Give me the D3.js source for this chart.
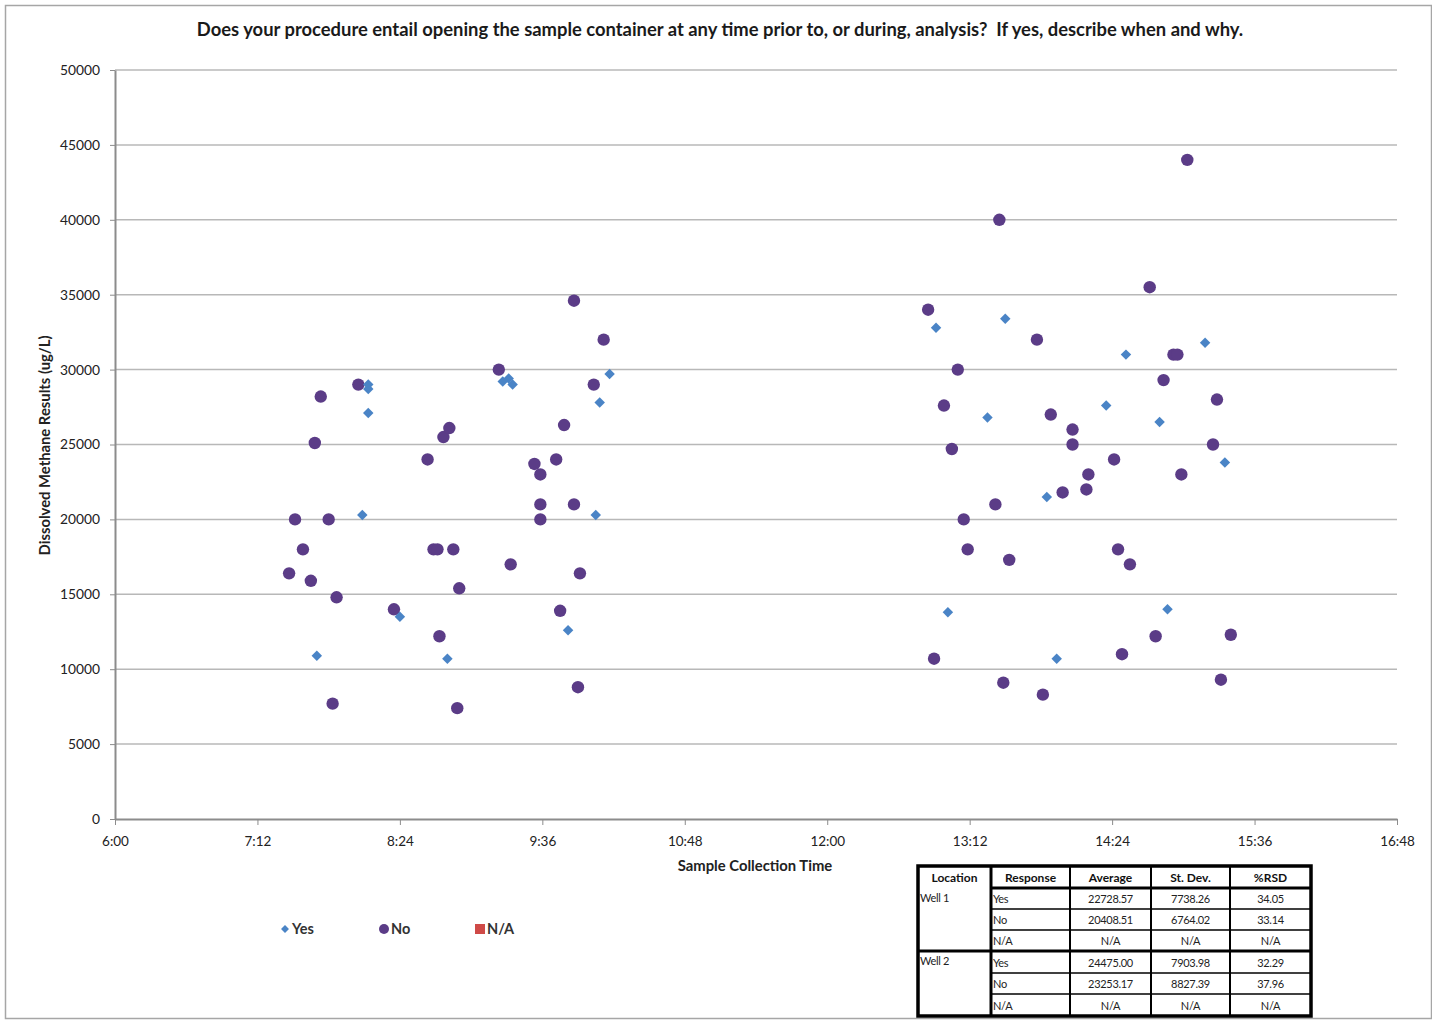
<!DOCTYPE html>
<html>
<head>
<meta charset="utf-8">
<script src="https://cdn.jsdelivr.net/npm/d3@7"></script>
<style>
  body { margin: 0; background: #fff; }
  svg text { font-family: "Lato", "Open Sans", sans-serif; white-space: pre; }
</style>
</head>
<body>
<div id="chart"></div>
<script>
const title = "Does your procedure entail opening the sample container at any time prior to, or during, analysis?  If yes, describe when and why."

const xTickLabels = ["6:00", "7:12", "8:24", "9:36", "10:48", "12:00", "13:12", "14:24", "15:36", "16:48"]
const yTicks = [0, 5000, 10000, 15000, 20000, 25000, 30000, 35000, 40000, 45000, 50000]

// [collection time, methane ug/L]
const yesPoints = [
  ["7:42", 10900], ["8:05", 20300], ["8:08", 29000], ["8:08", 28700], ["8:08", 27100],
  ["8:24", 13500], ["8:48", 10700], ["9:16", 29200], ["9:19", 29400], ["9:21", 29000],
  ["9:49", 12600], ["10:03", 20300], ["10:05", 27800], ["10:10", 29700],
  ["12:55", 32800], ["13:01", 13800], ["13:21", 26800], ["13:30", 33400], ["13:51", 21500],
  ["13:56", 10700], ["14:21", 27600], ["14:31", 31000], ["14:48", 26500], ["14:52", 14000],
  ["15:11", 31800], ["15:21", 23800]
]

const noPoints = [
  ["7:28", 16400], ["7:31", 20000], ["7:35", 18000], ["7:39", 15900], ["7:41", 25100],
  ["7:44", 28200], ["7:48", 20000], ["7:50", 7700], ["7:52", 14800], ["8:03", 29000],
  ["8:21", 14000], ["8:38", 24000], ["8:41", 18000], ["8:43", 18000], ["8:44", 12200],
  ["8:46", 25500], ["8:49", 26100], ["8:51", 18000], ["8:53", 7400], ["8:54", 15400],
  ["9:14", 30000], ["9:20", 17000], ["9:32", 23700], ["9:35", 23000], ["9:35", 21000],
  ["9:35", 20000], ["9:43", 24000], ["9:45", 13900], ["9:47", 26300], ["9:52", 34600],
  ["9:52", 21000], ["9:54", 8800], ["9:55", 16400], ["10:02", 29000], ["10:07", 32000],
  ["12:51", 34000], ["12:54", 10700], ["12:59", 27600], ["13:03", 24700], ["13:06", 30000],
  ["13:09", 20000], ["13:11", 18000], ["13:25", 21000], ["13:27", 40000], ["13:29", 9100],
  ["13:32", 17300], ["13:46", 32000], ["13:49", 8300], ["13:53", 27000], ["13:59", 21800],
  ["14:04", 26000], ["14:04", 25000], ["14:11", 22000], ["14:12", 23000], ["14:25", 24000],
  ["14:27", 18000], ["14:29", 11000], ["14:33", 17000], ["14:43", 35500], ["14:46", 12200],
  ["14:50", 29300], ["14:55", 31000], ["14:57", 31000], ["14:59", 23000], ["15:02", 44000],
  ["15:15", 25000], ["15:17", 28000], ["15:19", 9300], ["15:24", 12300]
]

const legendItems = ["Yes", "No", "N/A"]

const tableHeader = ["Location", "Response", "Average", "St. Dev.", "%RSD"]
const tableRows = [
  ["Well 1", "Yes", "22728.57", "7738.26", "34.05"],
  ["", "No", "20408.51", "6764.02", "33.14"],
  ["", "N/A", "N/A", "N/A", "N/A"],
  ["Well 2", "Yes", "24475.00", "7903.98", "32.29"],
  ["", "No", "23253.17", "8827.39", "37.96"],
  ["", "N/A", "N/A", "N/A", "N/A"]
]

const width = 1432, height = 1021
const margin = { top: 70, right: 35, bottom: 202, left: 115 }
const blue = "#4a84c6", purple = "#5b3c87", red = "#cf4a47"
const parseTime = d3.timeParse("%H:%M")

const svg = d3.select("#chart").append("svg")
  .attr("width", width).attr("height", height)

svg.append("rect")
  .attr("x", 5.5).attr("y", 5.5).attr("width", width - 6).attr("height", height - 8)
  .attr("fill", "none").attr("stroke", "#a6a6a6").attr("stroke-width", 1.5)

const x = d3.scaleTime()
  .domain([parseTime(xTickLabels[0]), parseTime(xTickLabels[xTickLabels.length - 1])])
  .range([margin.left, width - margin.right])
const y = d3.scaleLinear()
  .domain([0, 50000])
  .range([height - margin.bottom, margin.top])

svg.append("text")
  .attr("x", 720).attr("y", 36)
  .attr("text-anchor", "middle")
  .attr("font-size", 18.4).attr("font-weight", "bold").attr("fill", "#1a1a1a")
  .text(title)

// gridlines
svg.append("g")
  .selectAll("line")
  .data(yTicks.filter(d => d > 0))
  .join("line")
  .attr("x1", margin.left).attr("x2", width - margin.right)
  .attr("y1", d => y(d)).attr("y2", d => y(d))
  .attr("stroke", "#b8b8b8").attr("stroke-width", 1.5)

const yAxis = svg.append("g")
  .attr("transform", `translate(${margin.left},0)`)
  .call(d3.axisLeft(y).tickValues(yTicks).tickSize(5).tickSizeOuter(0).tickFormat(d3.format("d")))
yAxis.select(".domain").attr("stroke", "#8c8c8c").attr("stroke-width", 2)
yAxis.selectAll(".tick line").attr("stroke", "#8c8c8c")
yAxis.selectAll(".tick text")
  .attr("x", -15).attr("font-size", 13.8).attr("fill", "#222")
  .style("font-family", "Lato, sans-serif")

const xAxis = svg.append("g")
  .attr("transform", `translate(0,${height - margin.bottom})`)
  .call(d3.axisBottom(x).tickValues(xTickLabels.map(parseTime)).tickSize(6).tickSizeOuter(0)
    .tickFormat(d => d3.timeFormat("%-H:%M")(d)))
xAxis.select(".domain").attr("stroke", "#8c8c8c").attr("stroke-width", 2)
xAxis.selectAll(".tick line").attr("stroke", "#8c8c8c")
xAxis.selectAll(".tick text")
  .attr("y", 17).attr("font-size", 13.5).attr("fill", "#222")
  .style("font-family", "Lato, sans-serif")

svg.append("text")
  .attr("x", 755).attr("y", 871)
  .attr("text-anchor", "middle")
  .attr("font-size", 14.8).attr("font-weight", "bold").attr("fill", "#222")
  .text("Sample Collection Time")

svg.append("text")
  .attr("transform", `translate(50,${y(25000) + 1}) rotate(-90)`)
  .attr("text-anchor", "middle")
  .attr("font-size", 14.8).attr("font-weight", "bold").attr("fill", "#222")
  .text("Dissolved Methane Results (ug/L)")

// points
svg.append("g")
  .selectAll("circle")
  .data(noPoints)
  .join("circle")
  .attr("cx", d => x(parseTime(d[0])))
  .attr("cy", d => y(d[1]))
  .attr("r", 6.2)
  .attr("fill", purple)

svg.append("g")
  .selectAll("path")
  .data(yesPoints)
  .join("path")
  .attr("transform", d => `translate(${x(parseTime(d[0]))},${y(d[1])})`)
  .attr("d", d3.symbol(d3.symbolDiamond2, 70))
  .attr("fill", blue)

// legend
const legend = svg.append("g").attr("transform", "translate(285,929)")
const legendX = [0, 99, 195]
legendItems.forEach((name, i) => {
  const g = legend.append("g").attr("transform", `translate(${legendX[i]},0)`)
  if (i === 0) {
    g.append("path").attr("d", d3.symbol(d3.symbolDiamond2, 40)).attr("fill", blue)
  } else if (i === 1) {
    g.append("circle").attr("r", 5).attr("fill", purple)
  } else {
    g.append("rect").attr("x", -5).attr("y", -5).attr("width", 10).attr("height", 10).attr("fill", red)
  }
  g.append("text")
    .attr("x", 7).attr("dy", "0.35em")
    .attr("font-size", 14.5).attr("font-weight", "bold").attr("fill", "#333")
    .text(name)
})

// summary table
const colX = [918, 991, 1070, 1151, 1230, 1311]
const rowY = [866, 888, 909, 930, 951, 973, 994, 1016]
const table = svg.append("g")

rowY.slice(1, -1).forEach((yy, i) => {
  const groupLine = i === 3
  table.append("line")
    .attr("x1", groupLine ? colX[0] : colX[1]).attr("x2", colX[5])
    .attr("y1", yy).attr("y2", yy)
    .attr("stroke", "#000").attr("stroke-width", i === 0 || groupLine ? 3 : 1.5)
})
colX.slice(1, -1).forEach((xx, i) => {
  table.append("line")
    .attr("x1", xx).attr("x2", xx)
    .attr("y1", rowY[0]).attr("y2", rowY[rowY.length - 1])
    .attr("stroke", "#000").attr("stroke-width", i === 0 ? 3 : 2)
})
table.append("rect")
  .attr("x", colX[0]).attr("y", rowY[0])
  .attr("width", colX[5] - colX[0]).attr("height", rowY[rowY.length - 1] - rowY[0])
  .attr("fill", "none").attr("stroke", "#000").attr("stroke-width", 3.5)

tableHeader.forEach((h, j) => {
  table.append("text")
    .attr("x", (colX[j] + colX[j + 1]) / 2).attr("y", (rowY[0] + rowY[1]) / 2 + 1)
    .attr("dy", "0.35em").attr("text-anchor", "middle")
    .attr("font-size", 12).attr("font-weight", "bold").attr("fill", "#111")
    .text(h)
})

tableRows.forEach((row, i) => {
  const cy = (rowY[i + 1] + rowY[i + 2]) / 2 + 1
  row.forEach((cell, j) => {
    if (!cell) return
    const left = j < 2
    table.append("text")
      .attr("x", left ? colX[j] + 2 : (colX[j] + colX[j + 1]) / 2)
      .attr("y", cy).attr("dy", j === 0 ? "0.2em" : "0.35em")
      .attr("text-anchor", left ? "start" : "middle")
      .attr("font-size", 11).attr("fill", "#222")
      .attr("letter-spacing", -0.3)
      .text(cell)
  })
})
</script>
</body>
</html>
